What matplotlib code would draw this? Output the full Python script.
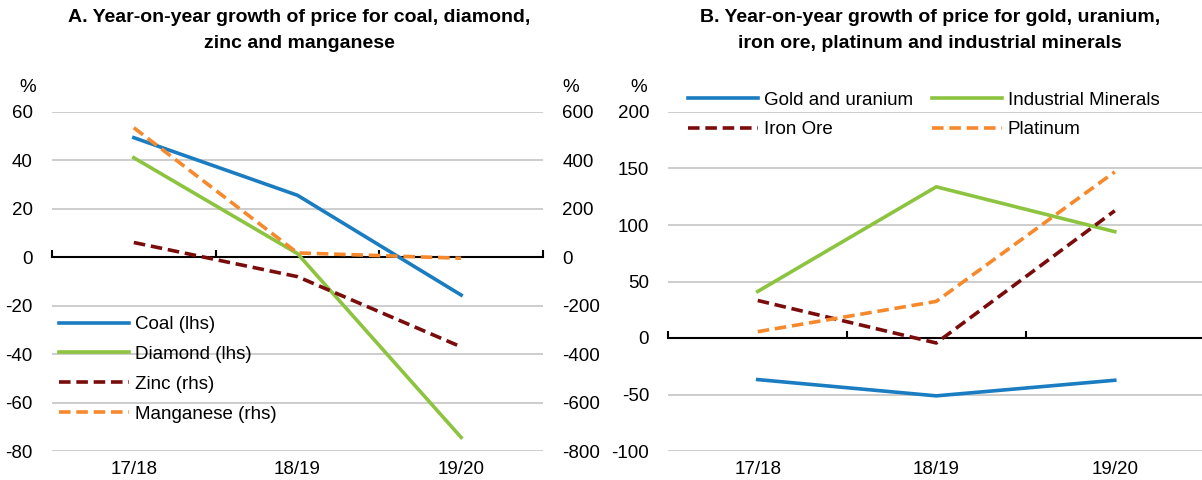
import numpy as np
import matplotlib
matplotlib.use("Agg")
import matplotlib.pyplot as plt

plt.rcParams['font.family'] = ['Liberation Sans Narrow', 'Liberation Sans', 'DejaVu Sans']
plt.rcParams['axes.unicode_minus'] = False

categories = ["17/18", "18/19", "19/20"]

coal = [49.4, 25.6, -15.6]
diamond = [41.1, 1.5, -74.4]
zinc = [61, -80, -370]
manganese = [535, 18, -4]

gold_uranium = [-36.8, -51.2, -37.4]
industrial = [41.2, 133.8, 94.1]
iron_ore = [33.2, -4.4, 112.6]
platinum = [5.6, 32.4, 147.0]

title_a = "A. Year-on-year growth of price for coal, diamond,\nzinc and manganese"
title_b = "B. Year-on-year growth of price for gold, uranium,\niron ore, platinum and industrial minerals"

BLUE = "#1A7CC1"
GREEN = "#8CC43F"
MAROON = "#7A0C0C"
ORANGE = "#F6892C"
GRID = "#C9C9C9"

W, H = 1202, 480
fig = plt.figure(figsize=(W / 100, H / 100), dpi=100)

bottom = (H - 451) / H
height = (451 - 112) / H
axA = fig.add_axes([52 / W, bottom, (543 - 52) / W, height])
axB = fig.add_axes([668.5 / W, bottom, (1204 - 668.5) / W, height])

FS = 13.5
LFS = 13.5
x = np.arange(len(categories)) + 0.5
dash = (3.2, 1.6)
LW = 2.6


def style(ax, ylim, yticks):
    ax.set_xlim(0, len(categories))
    ax.set_ylim(*ylim)
    ax.set_yticks(yticks)
    ax.set_yticklabels([f"{t:g}" for t in yticks])
    for t in yticks:
        if t != 0:
            ax.axhline(t, color=GRID, lw=1.3, zorder=0)
    for s in ("left", "right", "bottom"):
        ax.spines[s].set_visible(False)
    ax.spines['top'].set_position(('data', 0))
    ax.spines['top'].set_color("black")
    ax.spines['top'].set_linewidth(1.5)
    ax.spines['top'].set_zorder(1)
    ax.set_xticks(x)
    ax.set_xticklabels(categories)
    ax.set_xticks(np.arange(0, len(categories) + 1), minor=True)
    ax.tick_params(axis='x', which='major', length=0, pad=7, labelsize=FS,
                   top=False, bottom=True)
    ax.tick_params(axis='x', which='minor', length=5, width=1.5, direction='out',
                   top=True, bottom=False, color="black")
    ax.tick_params(axis='y', length=0, pad=14, labelsize=FS)


style(axA, (-80, 60), np.arange(-80, 61, 20))
axA2 = axA.twinx()
axA2.set_ylim(-800, 600)
rt = np.arange(-800, 601, 200)
axA2.set_yticks(rt)
axA2.set_yticklabels([f"{t:g}" for t in rt])
for s in axA2.spines.values():
    s.set_visible(False)
axA2.tick_params(axis='y', length=0, pad=14, labelsize=FS)

l1, = axA.plot(x, coal, color=BLUE, lw=LW, label="Coal (lhs)", zorder=3)
l2, = axA.plot(x, diamond, color=GREEN, lw=LW, label="Diamond (lhs)", zorder=3)
l3, = axA2.plot(x, zinc, color=MAROON, lw=LW, dashes=dash, label="Zinc (rhs)", zorder=3)
l4, = axA2.plot(x, manganese, color=ORANGE, lw=LW, dashes=dash, label="Manganese (rhs)", zorder=3)
axA2.legend(handles=[l1, l2, l3, l4], loc='upper left',
            bbox_to_anchor=(59 / W, 1 - 316 / H), bbox_transform=fig.transFigure,
            frameon=False, fontsize=LFS, handlelength=3.75, handletextpad=0.3,
            labelspacing=0.68, borderaxespad=0.0, borderpad=0.0)

style(axB, (-100, 200), np.arange(-100, 201, 50))
axB.plot(x, gold_uranium, color=BLUE, lw=LW, label="Gold and uranium")
axB.plot(x, industrial, color=GREEN, lw=LW, label="Industrial Minerals")
axB.plot(x, iron_ore, color=MAROON, lw=LW, dashes=dash, label="Iron Ore")
axB.plot(x, platinum, color=ORANGE, lw=LW, dashes=dash, label="Platinum")
h, lab = axB.get_legend_handles_labels()
order = [0, 2, 1, 3]
axB.legend([h[i] for i in order], [lab[i] for i in order], ncol=2, loc='upper left',
           bbox_to_anchor=(688 / W, 1 - 91.5 / H), bbox_transform=fig.transFigure,
           frameon=False, fontsize=LFS, handlelength=3.75, handletextpad=0.3,
           labelspacing=0.68, columnspacing=1.0, borderaxespad=0.0, borderpad=0.0)

fig.text(27.5 / W, 1 - 87 / H, "%", ha='center', va='center', fontsize=FS)
fig.text(571 / W, 1 - 87 / H, "%", ha='center', va='center', fontsize=FS)
fig.text(639 / W, 1 - 87 / H, "%", ha='center', va='center', fontsize=FS)

fig.text(299 / W, 1 - 9 / H, title_a, ha='center', va='top', fontsize=14,
         fontweight='bold', linespacing=1.7)
fig.text(930 / W, 1 - 9 / H, title_b, ha='center', va='top', fontsize=14,
         fontweight='bold', linespacing=1.7)

fig.savefig("out.png", dpi=100)
